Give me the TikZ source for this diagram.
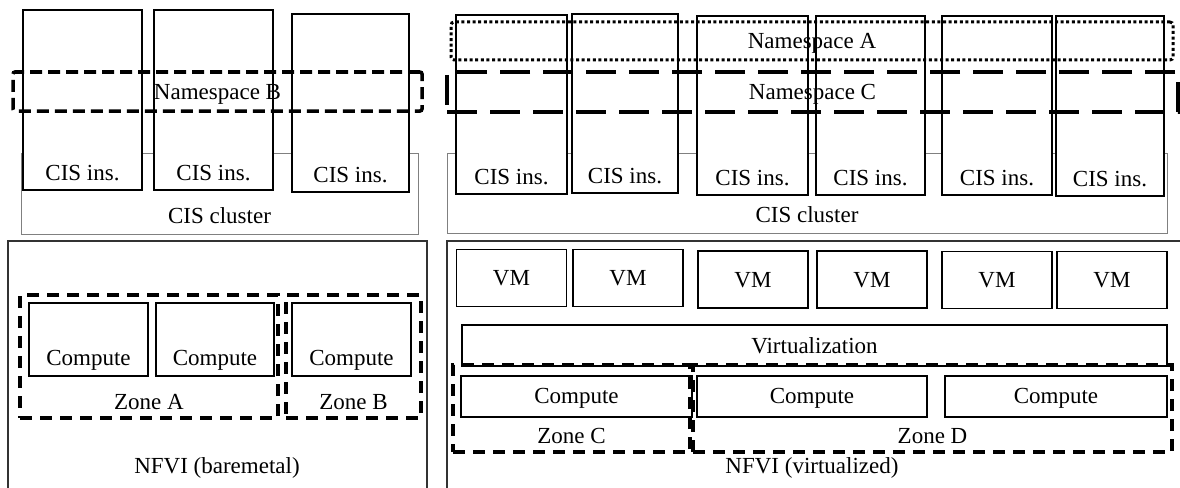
\documentclass[tikz,border=0pt]{standalone}
\usepackage{fontspec}
\setmainfont{Liberation Serif}
\usepackage{tikz}
\usetikzlibrary{positioning}

\begin{document}
\begin{tikzpicture}[x=1pt,y=-1pt,
    every node/.style={inner sep=0pt,text height=15.5pt,text depth=0pt,
      font=\fontsize{23}{27}\selectfont},
    cisbox/.style={draw,fill=white,line width=1.2pt},
    cluster/.style={draw=black!50,line width=0.9pt},
    nsdot/.style={draw,line width=3pt,dash pattern=on 3pt off 2.6pt,rounded corners=3pt},
    nsdash/.style={draw,line width=3.5pt,dash pattern=on 12pt off 6pt,rounded corners=2pt},
    nslong/.style={draw,line width=3.5pt,dash pattern=on 30pt off 13pt},
    frame/.style={draw=black!80,line width=1.3pt},
    vmbox/.style={draw,line width=1.2pt,minimum width=110pt,minimum height=57pt},
    hwbox/.style={draw,fill=white,line width=2pt,minimum height=41pt},
    zone/.style={draw,line width=3.3pt,dash pattern=on 12pt off 8pt}]
    \useasboundingbox (0,0) rectangle (1180,487);
    \clip (0,0) rectangle (1180,487);
    % CIS over baremetal
    \node[cluster,minimum width=397pt,minimum height=81pt] (clusL) at (219.5,193.5) {};
    \node[above=11pt of clusL.south] (lclusL) {CIS cluster};
    \node[cisbox,minimum width=119pt,minimum height=180pt] (cisL1) at (82.5,100) {};
    \node[cisbox,minimum width=119pt,minimum height=180pt] (cisL2) at (213.5,100) {};
    \node[cisbox,minimum width=117pt,minimum height=178pt] (cisL3) at (350.5,103) {};
    \node[above=10pt of cisL1.south] (lcisL1) {CIS ins.};
    \node[above=10pt of cisL2.south] (lcisL2) {CIS ins.};
    \node[above=10pt of cisL3.south] (lcisL3) {CIS ins.};
    \node[nsdash,minimum width=409pt,minimum height=39pt] (nsB) at (217.5,91.5) {Namespace B};
    % CIS over virtualized
    \node[cluster,minimum width=720pt,minimum height=80pt] (clusR) at (807,193) {};
    \node[above=11pt of clusR.south] (lclusR) {CIS cluster};
    \node[cisbox,minimum width=111pt,minimum height=179pt] (cisR1) at (511.5,104.5) {};
    \node[cisbox,minimum width=106pt,minimum height=179pt] (cisR2) at (625,103.5) {};
    \node[cisbox,minimum width=111pt,minimum height=179pt] (cisR3) at (752.5,105.5) {};
    \node[cisbox,minimum width=109pt,minimum height=179pt] (cisR4) at (870.5,105.5) {};
    \node[cisbox,minimum width=110pt,minimum height=179pt] (cisR5) at (997,105.5) {};
    \node[cisbox,minimum width=108pt,minimum height=180pt] (cisR6) at (1110,106) {};
    \node[above=10pt of cisR1.south] (lcisR1) {CIS ins.};
    \node[above=10pt of cisR2.south] (lcisR2) {CIS ins.};
    \node[above=10pt of cisR3.south] (lcisR3) {CIS ins.};
    \node[above=10pt of cisR4.south] (lcisR4) {CIS ins.};
    \node[above=10pt of cisR5.south] (lcisR5) {CIS ins.};
    \node[above=10pt of cisR6.south] (lcisR6) {CIS ins.};
    \node[nsdot,minimum width=722pt,minimum height=38pt] (nsA) at (812,41) {Namespace A};
    \node[nslong,minimum width=731pt,minimum height=40pt] (nsC) at (812.5,92) {Namespace C};
    % NFVI baremetal
    \node[frame,minimum width=419pt,minimum height=260pt] (nfviL) at (217.5,371) {};
    \node (lnfviL) at (217,466) {NFVI (baremetal)};
    \node[hwbox,line width=2.2pt,minimum width=119pt,minimum height=73pt] (cmpL1) at (88.5,339.5) {};
    \node[hwbox,line width=2.2pt,minimum width=118pt,minimum height=73pt] (cmpL2) at (215,339.5) {};
    \node[hwbox,line width=2.2pt,minimum width=119pt,minimum height=73pt] (cmpL3) at (351.5,339.5) {};
    \node[above=11.4pt of cmpL1.south] (lcmpL1) {Compute};
    \node[above=11.4pt of cmpL2.south] (lcmpL2) {Compute};
    \node[above=11.4pt of cmpL3.south] (lcmpL3) {Compute};
    \node[zone,minimum width=258pt,minimum height=123pt] (zoneA) at (149,356.5) {};
    \node[zone,minimum width=135pt,minimum height=123pt] (zoneB) at (353.5,356.5) {};
    \node[above=10.4pt of zoneA.south] (lzoneA) {Zone A};
    \node[above=10.4pt of zoneB.south] (lzoneB) {Zone B};
    % NFVI virtualized
    \node[frame,minimum width=740pt,minimum height=260pt] (nfviR) at (817,371) {};
    \node (lnfviR) at (812,466) {NFVI (virtualized)};
    \node[vmbox] (vm1) at (511.5,278) {VM};
    \node[vmbox] (vm2) at (628,278) {VM};
    \node[vmbox] (vm3) at (753,279.5) {VM};
    \node[vmbox] (vm4) at (872,279.5) {VM};
    \node[vmbox] (vm5) at (997,280) {VM};
    \node[vmbox] (vm6) at (1112,280) {VM};
    \node[hwbox,minimum width=705pt] (virt) at (814.5,345.5) {Virtualization};
    \node[hwbox,minimum width=231pt] (cmpR1) at (576.5,396) {Compute};
    \node[hwbox,minimum width=230pt] (cmpR2) at (812,396) {Compute};
    \node[hwbox,minimum width=222pt] (cmpR3) at (1056,396) {Compute};
    \node[zone,minimum width=237pt,minimum height=87pt] (zoneC) at (571.5,408.5) {};
    \node[zone,minimum width=479pt,minimum height=87pt] (zoneD) at (932.5,408.5) {};
    \node[above=10.4pt of zoneC.south] (lzoneC) {Zone C};
    \node[above=10.4pt of zoneD.south] (lzoneD) {Zone D};
\end{tikzpicture}
\end{document}
